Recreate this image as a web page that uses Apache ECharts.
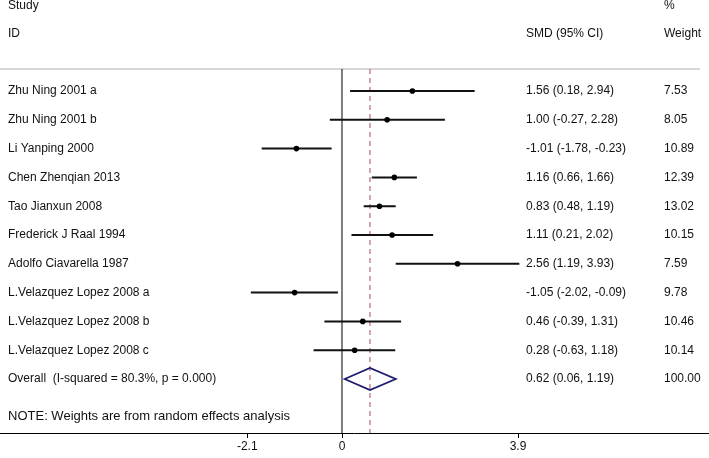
<!DOCTYPE html>
<html><head><meta charset="utf-8">
<script src="https://cdn.jsdelivr.net/npm/echarts@6/dist/echarts.min.js"></script>
<style>html,body{margin:0;padding:0;background:#fff}#c{width:709px;height:458px}</style>
</head><body><div id="c"></div>
<script>
var studies = ["Zhu Ning 2001 a","Zhu Ning 2001 b","Li Yanping 2000","Chen Zhenqian 2013","Tao Jianxun 2008","Frederick J Raal 1994","Adolfo Ciavarella 1987","L.Velazquez Lopez 2008 a","L.Velazquez Lopez 2008 b","L.Velazquez Lopez 2008 c"];
var est = [1.56,1.00,-1.01,1.16,0.83,1.11,2.56,-1.05,0.46,0.28];
var lo  = [0.18,-0.27,-1.78,0.66,0.48,0.21,1.19,-2.02,-0.39,-0.63];
var hi  = [2.94,2.28,-0.23,1.66,1.19,2.02,3.93,-0.09,1.31,1.18];
var weights = ["7.53","8.05","10.89","12.39","13.02","10.15","7.59","9.78","10.46","10.14"];
var overallLabel = "Overall  (I-squared = 80.3%, p = 0.000)";
var overall = {est:0.62, lo:0.06, hi:1.19, weight:"100.00"};
var tickValues = [-2.1, 0, 3.9];
var tickLabels = ["-2.1","0","3.9"];
var note = "NOTE: Weights are from random effects analysis";

var FONT = '"Liberation Sans", Arial, sans-serif';
var xMin = -7.578, xMax = 8.132;
var colStudy = -7.40, colSMD = 4.077, colW = 7.135;
var f2 = function(v){return v.toFixed(2);};

// text table: [x, row, text, fontSize]
var texts = [
  [colStudy,-2.95,"Study",12],[colStudy,-2,"ID",12],
  [colSMD,-2,"SMD (95% CI)",12],[colW,-2.95,"%",12],[colW,-2,"Weight",12]
];
studies.forEach(function(s,i){
  texts.push([colStudy,i,s,12]);
  texts.push([colSMD,i,f2(est[i])+" ("+f2(lo[i])+", "+f2(hi[i])+")",12]);
  texts.push([colW,i,weights[i],12]);
});
var oRow = studies.length;
texts.push([colStudy,oRow,overallLabel,12]);
texts.push([colSMD,oRow,f2(overall.est)+" ("+f2(overall.lo)+", "+f2(overall.hi)+")",12]);
texts.push([colW,oRow,overall.weight,12]);
texts.push([colStudy,11.3,note,13]);

var ciData = studies.map(function(s,i){return [lo[i],hi[i],est[i],i];});
var topRow = -0.764, botRow = 11.875;

var chart = echarts.init(document.getElementById('c'));
chart.setOption({
  animation:false,
  grid:{left:0,right:0,top:0,bottom:25,containLabel:false},
  xAxis:{type:'value',min:xMin,max:xMax,position:'bottom',
    axisLine:{show:true,onZero:false,lineStyle:{color:'#000',width:1}},
    splitLine:{show:false},
    axisTick:{show:true,customValues:tickValues,length:5,lineStyle:{color:'#000'}},
    axisLabel:{show:true,customValues:tickValues,color:'#111',fontFamily:FONT,fontSize:12,margin:8,
      formatter:function(v){var i=tickValues.indexOf(v);return i>=0?tickLabels[i]:'';}}
  },
  yAxis:{type:'value',inverse:true,min:-3.16,max:botRow,show:false},
  series:[
    {type:'custom',data:[[xMin,7.93,-0.764]],z:1,renderItem:function(p,api){
      var a=api.coord([api.value(0),api.value(2)]), b=api.coord([api.value(1),api.value(2)]);
      return {type:'line',shape:{x1:a[0],y1:a[1],x2:b[0],y2:b[1]},style:{stroke:'#c8c8c8',lineWidth:1.5}};
    }},
    {type:'custom',data:[[0,topRow,botRow]],z:2,renderItem:function(p,api){
      var a=api.coord([api.value(0),api.value(1)]), b=api.coord([api.value(0),api.value(2)]);
      return {type:'line',shape:{x1:a[0],y1:a[1],x2:b[0],y2:b[1]},style:{stroke:'#000',lineWidth:1}};
    }},
    {type:'custom',data:[[overall.est,topRow,botRow]],z:2,renderItem:function(p,api){
      var a=api.coord([api.value(0),api.value(1)]), b=api.coord([api.value(0),api.value(2)]);
      return {type:'line',shape:{x1:a[0],y1:a[1],x2:b[0],y2:b[1]},style:{stroke:'#a0505a',lineWidth:1,lineDash:[5,4]}};
    }},
    {type:'custom',data:ciData,z:3,renderItem:function(p,api){
      var r=api.value(3);
      var a=api.coord([api.value(0),r]), b=api.coord([api.value(1),r]), c=api.coord([api.value(2),r]);
      return {type:'group',children:[
        {type:'line',shape:{x1:a[0],y1:a[1],x2:b[0],y2:b[1]},style:{stroke:'#111',lineWidth:2}},
        {type:'circle',shape:{cx:c[0],cy:c[1],r:2.8},style:{fill:'#000'}}
      ]};
    }},
    {type:'custom',data:[[overall.lo,overall.est,overall.hi,oRow]],z:4,renderItem:function(p,api){
      var r=api.value(3);
      var L=api.coord([api.value(0),r]), C=api.coord([api.value(1),r]), R=api.coord([api.value(2),r]);
      var h=11;
      return {type:'polygon',shape:{points:[[L[0],L[1]],[C[0],C[1]-h],[R[0],R[1]],[C[0],C[1]+h]]},
        style:{fill:'rgba(0,0,0,0)',stroke:'#1c1c70',lineWidth:1.8}};
    }},
    {type:'custom',data:texts,z:5,renderItem:function(p,api){
      var c=api.coord([api.value(0),api.value(1)]);
      return {type:'text',x:c[0],y:c[1],style:{text:texts[p.dataIndex][2],fill:'#111',font:texts[p.dataIndex][3]+'px '+FONT,textAlign:'left',textVerticalAlign:'middle'}};
    }}
  ]
});
</script></body></html>
